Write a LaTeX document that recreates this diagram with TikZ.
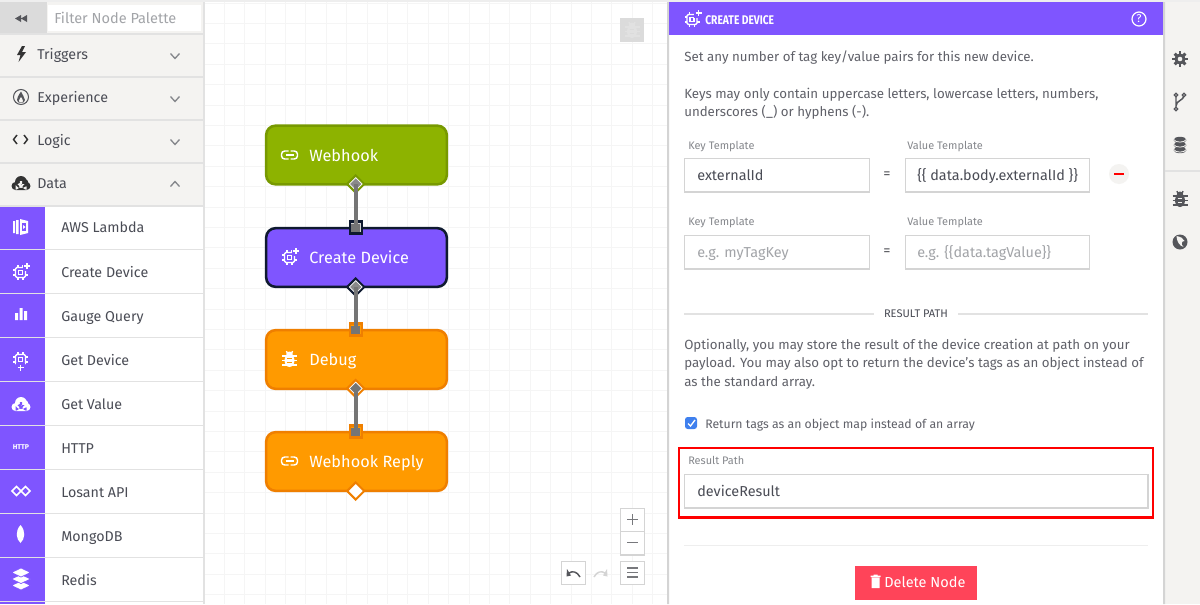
\documentclass[tikz,border=0pt]{standalone}
\usepackage{fontspec}
\usepackage{graphicx}
\setmainfont{Fira Sans}
\usetikzlibrary{
    arrows.meta,
    shapes.geometric,
    positioning,
    calc
}
\definecolor{panelgray}{HTML}{F4F3F1}
\definecolor{rulegray}{HTML}{E2E2E2}
\definecolor{gridgray}{HTML}{F5F5F5}
\definecolor{boxgray}{HTML}{D4D4D4}
\definecolor{inkgray}{HTML}{4A4C55}
\definecolor{softgray}{HTML}{85878C}
\definecolor{holdgray}{HTML}{A2A4A8}
\definecolor{iconink}{HTML}{55565B}
\definecolor{purplefill}{HTML}{7F55FF}
\definecolor{greenfill}{HTML}{8DB300}
\definecolor{greenedge}{HTML}{779900}
\definecolor{orangefill}{HTML}{FF9A00}
\definecolor{orangeedge}{HTML}{EF7F00}
\definecolor{darkedge}{HTML}{0F1A30}
\definecolor{wiregray}{HTML}{757575}
\definecolor{deletered}{HTML}{FF4459}
\definecolor{checkblue}{HTML}{3F80EE}
\newcommand{\chipicon}[2]{
    \begin{scope}[shift={(#1)}, draw=#2, line width=1.1pt]
        \draw[rounded corners=1pt] (-5,-5) rectangle (5,5);
        \draw[line width=.9pt] (-2,-2) rectangle (2,2);
        \foreach \pin in {-2.5,2.5} {
            \draw[line width=.9pt] (\pin,-7.5) -- (\pin,-5) (\pin,5) -- (\pin,7.5);
            \draw[line width=.9pt] (-7.5,\pin) -- (-5,\pin) (5,\pin) -- (7.5,\pin);
        }
    \end{scope}
}
\newcommand{\plusmark}[3]{
    \fill[#3] ($(#1)+(#2)+(-4.5,-4.5)$) rectangle ($(#1)+(#2)+(4.5,4.5)$);
    \draw[white, line width=1.1pt] ($(#1)+(#2)+(-3,0)$) -- ($(#1)+(#2)+(3,0)$) ($(#1)+(#2)+(0,-3)$) -- ($(#1)+(#2)+(0,3)$);
}
\newcommand{\linkicon}[2]{
    \begin{scope}[shift={(#1)}, draw=#2, line width=1.1pt, rounded corners=2.4pt]
        \draw (-1,-4) -- (-8,-4) -- (-8,4) -- (-1,4);
        \draw (1,-4) -- (8,-4) -- (8,4) -- (1,4);
        \draw[line width=.9pt, sharp corners] (-4,0) -- (4,0);
    \end{scope}
}
\newcommand{\bugicon}[3]{
    \begin{scope}[shift={(#1)}]
        \fill[#2] (0,1.5) ellipse (5 and 6.5);
        \fill[#2] (0,-4.5) ellipse (3.2 and 3);
        \draw[#2, line width=1pt] (-7.5,-3) -- (7.5,-3) (-7.5,1.5) -- (7.5,1.5) (-7.5,6) -- (7.5,6);
        \draw[#2, line width=1pt] (-3,-8) -- (-2,-5) (3,-8) -- (2,-5);
        \draw[#3, line width=.7pt] (-2.2,-.5) -- (2.2,-.5) (-2.2,3) -- (2.2,3);
    \end{scope}
}
\newcommand{\cloudicon}[3]{
    \begin{scope}[shift={(#1)}]
        \fill[#2] (-5.5,3) circle (4) (5.5,3) circle (4) (0,-1) circle (6) (3.5,0) circle (4) (-5.5,0) rectangle (5.5,7);
        \fill[#3] (-1.2,-2) rectangle (1.2,1.5) (-3.6,1) -- (3.6,1) -- (0,4.8) -- cycle;
    \end{scope}
}
\newcommand{\chevron}[2]{
    \draw[softgray, line width=1pt] ($(#1)+(-4.5,-#2*2.5)$) -- ($(#1)+(0,#2*2.5)$) -- ($(#1)+(4.5,-#2*2.5)$);
}
\tikzset{
    sectionlabel/.style={anchor=base west, inner sep=0pt, text=inkgray, font=\fontsize{10.7}{12}\selectfont},
    bodytext/.style={anchor=base west, inner sep=0pt, text=inkgray!88, font=\fontsize{9.97}{12}\selectfont},
    smalllabel/.style={anchor=base west, inner sep=0pt, text=softgray, font=\fontsize{8.2}{10}\selectfont},
    fieldtext/.style={anchor=base west, inner sep=0pt, text=inkgray, font=\fontsize{10.8}{12}\selectfont},
    holdtext/.style={fieldtext, text=holdgray},
    field/.style={draw=boxgray, fill=white, line width=.95pt, anchor=north west, inner sep=0pt},
    flownode/.style={rectangle, rounded corners=7pt, line width=1.9pt, minimum width=135.5pt, minimum height=44pt, inner sep=0pt},
    flowtext/.style={anchor=base west, inner sep=0pt, text=white, font=\fontsize{12.2}{14}\selectfont\addfontfeature{LetterSpace=0.3}},
    outport/.style={diamond, minimum width=13.5pt, minimum height=13.5pt, inner sep=0pt, draw=#1, line width=1.5pt},
    outcore/.style={diamond, fill=#1, minimum width=8.5pt, minimum height=8.5pt, inner sep=0pt},
    inport/.style={rectangle, minimum width=9pt, minimum height=9pt, inner sep=0pt, draw=#1, line width=1.6pt},
    incore/.style={rectangle, fill=wiregray, minimum width=6.5pt, minimum height=6.5pt, inner sep=0pt},
    wire/.style={wiregray, line width=2.8pt},
    ctrl/.style={draw=boxgray, fill=white, line width=.95pt, anchor=north west, inner sep=0pt}
}

\begin{document}
\begin{tikzpicture}[x=0.75pt, y=-0.75pt]
    \useasboundingbox (0,0) rectangle (1200,604);
    \fill[white] (0,0) rectangle (1200,604);

    % canvas grid
    \foreach \k in {-4,...,17} \draw[gridgray, line width=.75pt] ({571-20.4*\k},2) -- ({571-20.4*\k},604);
    \foreach \k in {-4,...,25} \draw[gridgray, line width=.75pt] (204,{513-20.4*\k}) -- (667,{513-20.4*\k});
    \fill[rulegray!60] (0,0) rectangle (1200,2);

    % palette column
    \fill[panelgray] (0,2) rectangle (203,205);
    \fill[white] (0,205) rectangle (203,604);
    \fill[rulegray] (203,2) rectangle (205,604);
    \fill[purplefill] (0,205) rectangle (45,604);
    \fill[boxgray!85] (0,2) rectangle (47,33);
    \fill[white] (48,5) rectangle (201,31);
    \fill[iconink] (21,15) -- (15,18.5) -- (21,22) -- cycle (27,15) -- (21,18.5) -- (27,22) -- cycle;
    \node[anchor=base west, inner sep=0pt, text=holdgray, font=\fontsize{10.9}{12}\selectfont] (filterbox) at (54,23) {Filter Node Palette};
    \foreach \yy in {33,76,119,162,205} \fill[rulegray] (0,\yy) rectangle (203,\yy+1.5);
    \foreach \yy in {249,293,337,381,425,469,513,557,601} \fill[rulegray] (0,\yy) rectangle (203,\yy+1.3);

    \node[sectionlabel] (triggers) at (37,59) {Triggers};
    \node[sectionlabel] (experience) at (37,102) {Experience};
    \node[sectionlabel] (logic) at (37,145) {Logic};
    \node[sectionlabel] (data) at (37,188) {Data};
    \chevron{175,56}{1}
    \chevron{175,99}{1}
    \chevron{175,142}{1}
    \chevron{175,184}{-1}

    \foreach \name/\yy/\txt in {lambda/232/AWS Lambda, create/277/Create Device, gauge/321/Gauge Query, getdev/365/Get Device, getval/409/Get Value, http/453/HTTP, losant/497/Losant API, mongo/541/MongoDB, redis/585/Redis}
        \node[sectionlabel] (\name) at (61,\yy) {\txt};

    % section icons
    \fill[black!80] (22,46) -- (17,55) -- (20.5,55) -- (18.5,62) -- (26,52) -- (22,52) -- (25,46) -- cycle;
    \draw[iconink, line width=.8pt] (21,97) circle (7.5);
    \fill[iconink] (21,91.5) .. controls (18,96) and (17,98) .. (17,100) .. controls (17,104) and (25,104) .. (25,100) .. controls (25,97) and (22,95) .. (21,91.5);
    \fill[panelgray] (21,97) .. controls (19.5,99) and (19,100) .. (19,101) .. controls (19,103) and (23,103) .. (23,101) .. controls (23,100) and (22,98.5) .. (21,97);
    \draw[black!80, line width=1.1pt] (17,135) -- (13.5,139.5) -- (17,144) (24,135) -- (27.5,139.5) -- (24,144);
    \cloudicon{21,183}{black!80}{panelgray}

    % palette icons
    \fill[white] (13,221) rectangle (15,233) (16,220) rectangle (18.5,234) (20,219) -- (28,221) -- (28,233) -- (20,235) -- cycle;
    \fill[purplefill] (22,223) rectangle (26,231);
    \fill[white] (23,225) -- (25.5,227) -- (23,229) -- cycle;
    \chipicon{20.5,272.5}{white}
    \plusmark{20.5,272.5}{6.5,-6.5}{purplefill}
    \fill[white] (15,313) rectangle (18,320) (19.5,308) rectangle (22.5,320) (24,311) rectangle (27,320);
    \chipicon{20.5,359.5}{white}
    \plusmark{20.5,359.5}{0,8}{purplefill}
    \cloudicon{21,404}{white}{purplefill}
    \node[inner sep=0pt, text=white, font=\fontsize{5.2}{6}\bfseries\selectfont] (httpicon) at (21,447) {HTTP};
    \foreach \cx in {16.5,25.5}
        \draw[white, line width=1.2pt] (\cx-4.5,491) -- (\cx,486.5) -- (\cx+4.5,491) -- (\cx,495.5) -- cycle;
    \fill[white] (20.5,525) .. controls (15,531) and (16,539) .. (20.5,543) .. controls (25,539) and (26,531) .. (20.5,525);
    \foreach \yy in {587,580.5,574} {
        \fill[white] (21,\yy-6) -- (30.5,\yy-1.5) -- (21,\yy+3) -- (11.5,\yy-1.5) -- cycle;
        \draw[purplefill, line width=.5pt] (21,\yy-6) -- (30.5,\yy-1.5) -- (21,\yy+3) -- (11.5,\yy-1.5) -- cycle;
    }

    % workflow nodes
    \node[flownode, fill=greenfill, draw=greenedge] (webhook) at (356.5,155) {};
    \node[flownode, fill=purplefill, draw=darkedge] (createdev) at (356.5,257.5) {};
    \node[flownode, fill=orangefill, draw=orangeedge] (debug) at (356.5,359.5) {};
    \node[flownode, fill=orangefill, draw=orangeedge] (reply) at (356.5,461.5) {};
    \node[flowtext] (webhooktxt) at (309,161) {Webhook};
    \node[flowtext] (createtxt) at (309,263) {Create Device};
    \node[flowtext] (debugtxt) at (309,365) {Debug};
    \node[flowtext] (replytxt) at (309,467) {Webhook Reply};
    \linkicon{289.5,155}{white}
    \chipicon{289.5,257.5}{white}
    \plusmark{289.5,257.5}{6.5,-6.5}{purplefill}
    \bugicon{289.5,359}{white}{orangefill}
    \linkicon{289.5,461}{white}

    \node[outport=greenedge, fill=white] (webhookring) at (355.7,184) {};
    \node[outport=darkedge, fill=white] (createring) at (355.7,287) {};
    \node[outport=orangeedge, fill=white] (debugring) at (355.7,388.5) {};
    \node[outport=orangeedge, fill=white] (replyring) at (355.7,491) {};
    \node[outcore=wiregray!85] (webhookout) at (355.7,184) {};
    \node[outcore=wiregray!85] (createout) at (355.7,287) {};
    \node[outcore=wiregray] (debugout) at (355.7,388.5) {};
    \node[inport=darkedge, fill=boxgray] (createin) at (355.7,227.5) {};
    \node[inport=orangeedge, fill=orangefill] (debugin) at (355.7,329.5) {};
    \node[inport=orangeedge, fill=orangefill] (replyin) at (355.7,431.5) {};
    \node[incore] (createcore) at (355.7,228) {};
    \node[incore] (debugcore) at (355.7,330) {};
    \node[incore] (replycore) at (355.7,432) {};
    \draw[wire] (webhookout.center) -- (createcore.center);
    \draw[wire] (createout.center) -- (debugcore.center);
    \draw[wire] (debugout.center) -- (replycore.center);

    % canvas controls
    \node[ctrl, minimum width=18pt, minimum height=17.5pt] (zoomin) at (620,508) {};
    \node[ctrl, minimum width=18pt, minimum height=17.5pt] (zoomout) at (620,531) {};
    \node[ctrl, minimum width=18pt, minimum height=17pt] (menubtn) at (620,561) {};
    \node[ctrl, minimum width=18pt, minimum height=17pt] (undobtn) at (561,561) {};
    \draw[iconink!80, line width=1.1pt] (627,519.5) -- (638,519.5) (632.5,514) -- (632.5,525) (627,542.5) -- (638,542.5);
    \draw[iconink!80, line width=.9pt] (627,568) -- (638,568) (627,572.5) -- (638,572.5) (627,577) -- (638,577);
    \draw[iconink, line width=1.1pt] (580,577) .. controls (577,571) and (572,571) .. (569,573);
    \fill[iconink] (567,569) -- (571,575.5) -- (566.5,576.5) -- cycle;
    \draw[boxgray, line width=1.1pt] (594,577) .. controls (597,571) and (602,571) .. (605,573);
    \fill[boxgray] (607,569) -- (603,575.5) -- (607.5,576.5) -- cycle;
    \fill[boxgray!85] (619.5,18) rectangle (644,42);
    \bugicon{632,30}{boxgray!70}{boxgray!85}

    % settings panel
    \fill[white] (668,2) rectangle (1164,604);
    \fill[panelgray] (1165,2) rectangle (1200,604);
    \fill[boxgray] (667,2) rectangle (669,604) (1163,2) rectangle (1165,604);
    \fill[purplefill] (669,2) rectangle (1163,35);
    \chipicon{692,19.5}{white}
    \plusmark{692,19.5}{6.5,-6.5}{purplefill}
    \node[anchor=base west, inner sep=0pt, text=white, font=\fontsize{9.4}{11}\bfseries\selectfont] (paneltitle) at (705,24) {\scalebox{.82}[1]{CREATE DEVICE}};
    \draw[white, line width=.9pt] (1139,19) circle (7);
    \node[inner sep=0pt, text=white, font=\fontsize{8.5}{10}\selectfont] (helpmark) at (1139,19) {?};

    \node[bodytext] (intro) at (684,61) {Set any number of tag key/value pairs for this new device.};
    \node[bodytext] (keysa) at (684,98) {Keys may only contain uppercase letters, lowercase letters, numbers,};
    \node[bodytext] (keysb) at (684,116) {underscores (\_) or hyphens (-).};

    \node[smalllabel] (keylabela) at (688,149) {Key Template};
    \node[smalllabel] (vallabela) at (907,149) {Value Template};
    \node[smalllabel] (keylabelb) at (688,225) {Key Template};
    \node[smalllabel] (vallabelb) at (907,225) {Value Template};
    \node[field, minimum width=138.5pt, minimum height=25pt] (keyone) at (684,158) {};
    \node[field, minimum width=138pt, minimum height=25pt] (valone) at (904.7,158) {};
    \node[field, minimum width=138.5pt, minimum height=25pt] (keytwo) at (684,235) {};
    \node[field, minimum width=138pt, minimum height=25pt] (valtwo) at (904.7,235) {};
    \node[fieldtext] (keytxt) at (697,180) {externalId};
    \node[fieldtext] (valtxt) at (917,180) {\{\{ data.body.externalId \}\}};
    \node[holdtext] (keyhold) at (697,257) {e.g. myTagKey};
    \node[holdtext] (valhold) at (917,257) {e.g. \{\{data.tagValue\}\}};
    \node[fieldtext, anchor=center, text=iconink] (eqone) at (887,175) {=};
    \node[fieldtext, anchor=center, text=iconink] (eqtwo) at (887,252) {=};
    \node[circle, fill=panelgray, minimum size=15pt, inner sep=0pt] (removebtn) at (1119,174) {};
    \draw[red, line width=1pt] (1114,174) -- (1124,174);

    \draw[rulegray, line width=1pt] (684,314) -- (873.5,314) (958,314) -- (1148,314);
    \node[anchor=base, inner sep=0pt, text=inkgray, font=\fontsize{8.3}{10}\selectfont] (resulthead) at (916,317) {RESULT PATH};

    \node[bodytext] (opta) at (684,349) {Optionally, you may store the result of the device creation at path on your};
    \node[bodytext] (optb) at (684,367) {payload. You may also opt to return the device\symbol{39}s tags as an object instead of};
    \node[bodytext] (optc) at (684,386) {as the standard array.};

    \node[rectangle, rounded corners=2pt, fill=checkblue, minimum size=9pt, inner sep=0pt] (checkbox) at (691,423) {};
    \draw[white, line width=1pt] (688,423.5) -- (690.5,426) -- (695,420);
    \node[bodytext, font=\fontsize{9.2}{12}\selectfont] (checktxt) at (705,428.5) {Return tags as an object map instead of an array};

    \node[smalllabel] (resultlabel) at (688,464) {Result Path};
    \node[field, minimum width=347.5pt, minimum height=25pt] (resultfield) at (684,474) {};
    \node[fieldtext] (resulttxt) at (697,496) {deviceResult};
    \node[draw=red, line width=2.2pt, anchor=north west, minimum width=355.5pt, minimum height=52pt, inner sep=0pt] (resultmark) at (677.5,446.5) {};

    \draw[rulegray!60, line width=.75pt] (684,545) -- (1148,545);
    \node[anchor=north west, fill=deletered, minimum width=91.5pt, minimum height=25.5pt, inner sep=0pt] (deletebtn) at (855,566) {};
    \fill[white] (871.5,577.5) rectangle (879.5,588) (870.5,575.5) rectangle (880.5,577) (873.5,574.5) rectangle (877.5,576);
    \node[anchor=base west, inner sep=0pt, text=white, font=\fontsize{10.9}{13}\selectfont] (deletetxt) at (884,587) {Delete Node};

    % side icons
    \fill[iconink] (1180,59) circle (5.6);
    \foreach \a in {0,45,...,315} \draw[iconink, line width=2.2pt] (1180,59) -- ++(\a:7.6);
    \fill[panelgray] (1180,59) circle (2.3);
    \draw[iconink, line width=1.1pt] (1176,95) -- (1176,110) (1184,95) .. controls (1184,101) and (1176,100) .. (1176,106);
    \fill[panelgray, draw=iconink, line width=.9pt] (1176,95) circle (1.8) (1184,95) circle (1.8) (1176,109) circle (1.8);
    \foreach \yy in {150,145,140} {
        \fill[iconink] (1180,\yy) ellipse (6.5 and 3.2);
        \draw[panelgray, line width=.6pt] (1173.5,\yy-.6) .. controls (1175.5,\yy+3) and (1184.5,\yy+3) .. (1186.5,\yy-.6);
    }
    \draw[rulegray, line width=1pt] (1165,171) -- (1200,171);
    \bugicon{1180,199}{iconink}{panelgray}
    \fill[iconink] (1180,242) circle (7.5);
    \fill[panelgray] (1176.5,236) .. controls (1180.5,237) and (1183.5,238) .. (1184.5,241) .. controls (1181.5,241) and (1180.5,244) .. (1183.5,247) .. controls (1179.5,246) and (1176.5,241) .. (1176.5,236);
\end{tikzpicture}
\end{document}
